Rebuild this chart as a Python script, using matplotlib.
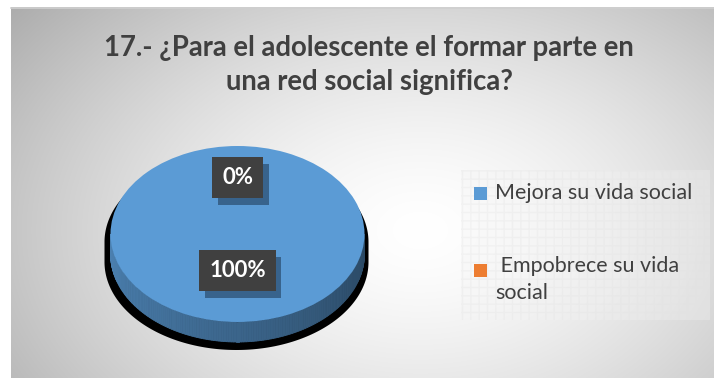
"""
Pie chart (3-D look) for survey question 17, saved as out.png.
"""

import numpy as np
import matplotlib.pyplot as plt
import matplotlib.patheffects as pe
from matplotlib.colors import to_rgb
from matplotlib.patches import Polygon, Rectangle

TITLE = "17.- ¿Para el adolescente el formar parte en\nuna red social significa?"
categories = ["Mejora su vida social", "Empobrece su vida social"]
legend_labels = ["Mejora su vida social", " Empobrece su vida\nsocial"]
values = [100, 0]
colors = ["#5b9bd5", "#ed7d31"]

W, H = 714, 378
FONT = ["Lato", "DejaVu Sans"]
TEXT_COLOR = "#404040"

plt.rcParams["font.family"] = FONT

fig = plt.figure(figsize=(W / 100, H / 100), dpi=100)

# background layer in pixel coordinates (y down)
bg = fig.add_axes([0, 0, 1, 1])
bg.set_xlim(0, W)
bg.set_ylim(H, 0)
bg.axis("off")

x0, y0 = 11, 7
yy, xx = np.mgrid[y0:H, x0:W]
r = np.hypot((xx - 420) / 440, (yy - 230) / 300)
shade = 1.0 - 0.25 * np.clip(r, 0, 1.3) ** 1.5
bg.imshow(np.dstack([shade] * 3), extent=(x0, W, H, y0), aspect="auto",
          interpolation="bilinear", zorder=0)
bg.plot([x0, W], [y0 + 0.5, y0 + 0.5], color="#cfcfcf", lw=1.2, zorder=1)

bg.text(369, 65, TITLE, ha="center", va="center", fontsize=19.8,
        fontweight="bold", color=TEXT_COLOR, linespacing=1.4)

# pie geometry in pixels
cx, cy, rx, ry, depth = 237.5, 234, 127, 88, 20
ax = fig.add_axes([100 / W, (H - 362) / H, 280 / W, 232 / H])

wedges, _ = ax.pie(values, colors=colors, startangle=90, counterclock=False,
                   radius=1, wedgeprops=dict(linewidth=0))
for w in wedges:
    w.set_zorder(5)
ax.set_aspect("auto")
ax.set_xlim((100 - cx) / rx, (380 - cx) / rx)
ax.set_ylim((cy - 362) / ry, (cy - 130) / ry)
ax.axis("off")

d = depth / ry

# drop shadow under the pie body: widened a little and pushed down
t = np.linspace(0, 2 * np.pi, 300)
sx = 1 + 5 / rx
upper = t[t <= np.pi]
lower = t[t >= np.pi]
drop = 8 / ry
shadow_pts = np.concatenate([
    np.column_stack([sx * np.cos(upper) - 1 / rx, np.sin(upper) - drop]),
    np.column_stack([sx * np.cos(lower) - 1 / rx, np.sin(lower) - d - drop]),
])
ax.add_patch(Polygon(shadow_pts, closed=True, facecolor="black",
                     edgecolor="none", zorder=2))

# side wall, coloured by the wedge each segment belongs to
bounds = 90 - 360 * np.cumsum([0] + values) / sum(values)
seg = np.linspace(np.pi, 2 * np.pi, 160)
for a, b in zip(seg[:-1], seg[1:]):
    mid = np.degrees((a + b) / 2)
    idx = 0
    for i in range(len(values)):
        hi, lo = bounds[i], bounds[i + 1]
        m = mid
        while m > hi:
            m -= 360
        while m < lo:
            m += 360
        if lo <= m <= hi and values[i] > 0:
            idx = i
            break
    frac = (a - np.pi) / np.pi
    k = 0.84 - 0.38 * frac
    base = np.array(to_rgb(colors[idx])) * k
    quad = [(np.cos(a), np.sin(a)), (np.cos(b), np.sin(b)),
            (np.cos(b), np.sin(b) - d), (np.cos(a), np.sin(a) - d)]
    ax.add_patch(Polygon(quad, closed=True, facecolor=base,
                         edgecolor=base, lw=0.6, zorder=3))

# percentage labels on dark boxes with a soft drop shadow
label_r = [0.41, 0.64]
for w, v, lr in zip(wedges, values, label_r):
    ang = np.radians((w.theta1 + w.theta2) / 2)
    lx, ly = lr * np.cos(ang), lr * np.sin(ang)
    lab = ax.text(lx, ly, f"{v:.0f}%", ha="center", va="center", fontsize=16,
                  fontweight="bold", color="white", zorder=7,
                  bbox=dict(boxstyle="square,pad=0.45", facecolor="#404040",
                            edgecolor="none"))
    lab.get_bbox_patch().set_path_effects([
        pe.SimplePatchShadow(offset=(4, -5), shadow_rgbFace="#1c3550", alpha=0.55),
        pe.Normal(),
    ])

# legend panel
bg.add_patch(Rectangle((461, 170), 249, 150, facecolor="#f4f4f4",
                       edgecolor="#e2e2e2", alpha=0.3, hatch="++",
                       zorder=2, lw=0))
leg_y = [193, 270]
for c, lab, ly in zip(colors, legend_labels, leg_y):
    bg.add_patch(Rectangle((474, ly - 6.5), 13, 13, facecolor=c,
                           edgecolor="none", zorder=3))
    multi = "\n" in lab
    bg.text(495, ly - 14 if multi else ly, lab, ha="left",
            va="top" if multi else "center", fontsize=15.5,
            color=TEXT_COLOR, linespacing=1.45, zorder=3)

fig.savefig("out.png", dpi=100)
